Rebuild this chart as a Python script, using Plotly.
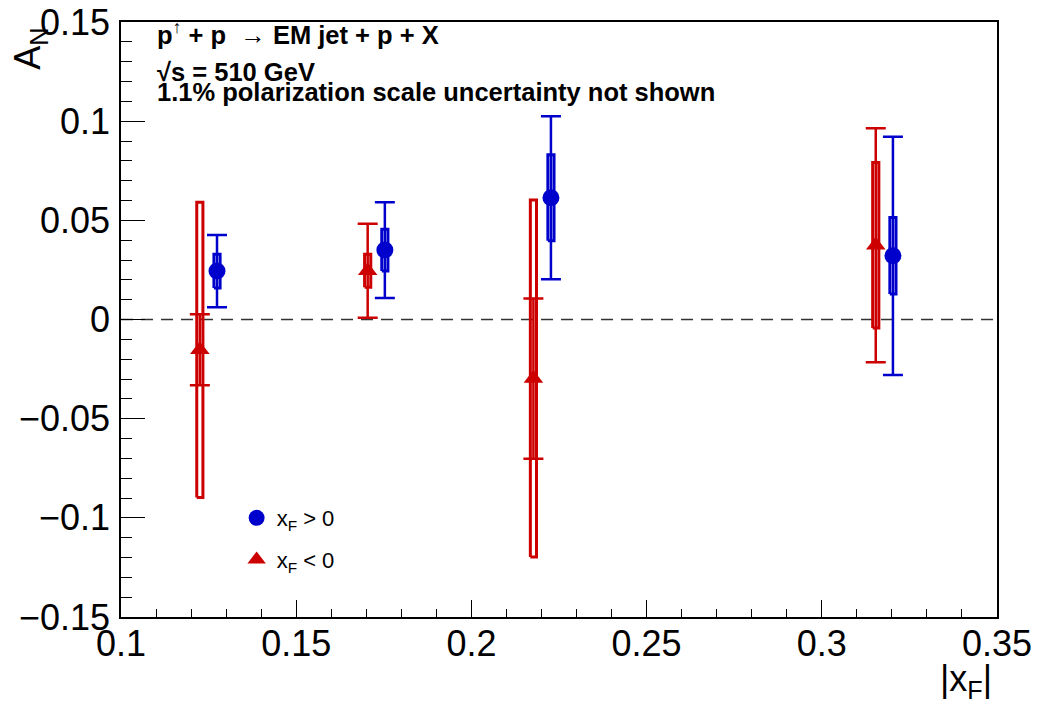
import plotly.graph_objects as go

# |x_F| bin centres, asymmetries, statistical and systematic uncertainties
xf_pos_x = [0.1274, 0.1753, 0.2227, 0.3203]
xf_pos_an = [0.0244, 0.0350, 0.0614, 0.0321]
xf_pos_stat = [0.0182, 0.0241, 0.0411, 0.0601]
xf_pos_sys = [0.0085, 0.0105, 0.0217, 0.0193]

xf_neg_x = [0.1225, 0.1704, 0.2177, 0.3154]
xf_neg_an = [-0.0153, 0.0246, -0.0298, 0.0374]
xf_neg_stat = [0.0179, 0.0237, 0.0404, 0.0590]
xf_neg_sys = [0.0744, 0.0083, 0.0900, 0.0417]

BLUE = "#0000CC"
RED = "#CC0000"
BOX_HALF_W = 0.00088  # half width of systematic boxes in |x_F| units
FONT = "Liberation Sans, Arial, sans-serif"


def box_outline(xs, ys, errs):
    px, py = [], []
    for x, y, e in zip(xs, ys, errs):
        px += [x - BOX_HALF_W, x + BOX_HALF_W, x + BOX_HALF_W, x - BOX_HALF_W, x - BOX_HALF_W, None]
        py += [y - e, y - e, y + e, y + e, y - e, None]
    return px, py


fig = go.Figure()

# zero line
fig.add_shape(type="line", xref="paper", yref="y", x0=0, x1=1, y0=0, y1=0,
              line=dict(color="#333333", width=1.5, dash="12px,8px"), layer="below")

# systematic uncertainty boxes
for xs, ys, es, col in [(xf_neg_x, xf_neg_an, xf_neg_sys, RED),
                        (xf_pos_x, xf_pos_an, xf_pos_sys, BLUE)]:
    bx, by = box_outline(xs, ys, es)
    fig.add_trace(go.Scatter(x=bx, y=by, mode="lines", line=dict(color=col, width=3),
                             showlegend=False, hoverinfo="skip"))

# points with statistical error bars
fig.add_trace(go.Scatter(
    x=xf_neg_x, y=xf_neg_an, mode="markers",
    marker=dict(symbol="triangle-up", size=17, color=RED),
    error_y=dict(type="data", array=xf_neg_stat, color=RED, thickness=2.5, width=10),
    showlegend=False))
fig.add_trace(go.Scatter(
    x=xf_pos_x, y=xf_pos_an, mode="markers",
    marker=dict(symbol="circle", size=17, color=BLUE),
    error_y=dict(type="data", array=xf_pos_stat, color=BLUE, thickness=2.5, width=10),
    showlegend=False))

# legend entries
fig.add_trace(go.Scatter(x=[None], y=[None], mode="markers", name="x<sub>F</sub> &gt; 0",
                         marker=dict(symbol="circle", size=17, color=BLUE), legendgroup="a"))
fig.add_trace(go.Scatter(x=[None], y=[None], mode="markers", name="x<sub>F</sub> &lt; 0",
                         marker=dict(symbol="triangle-up", size=17, color=RED), legendgroup="b"))

axis_common = dict(showgrid=False, zeroline=False, showline=True, mirror=True,
                   linecolor="black", linewidth=1.5, ticks="inside", tickcolor="black",
                   tickwidth=1.2, automargin=False,
                   tickfont=dict(family=FONT, size=36, color="black"))

fig.update_xaxes(range=[0.1, 0.35], dtick=0.05, tick0=0.1, ticklen=17,
                 minor=dict(dtick=0.01, ticks="inside", ticklen=8, tickcolor="black", tickwidth=1.2),
                 ticklabelstandoff=-6, **axis_common)
fig.update_yaxes(range=[-0.15, 0.15], dtick=0.05, tick0=0, ticklen=24,
                 minor=dict(dtick=0.01, ticks="inside", ticklen=11, tickcolor="black", tickwidth=1.2),
                 ticklabelstandoff=2, **axis_common)

annots = [
    dict(text="<b>p<sup>↑</sup> + p  → EM jet + p + X</b>", x=0.0388, y=0.9815),
    dict(text="<b>√s = 510 GeV</b>", x=0.0388, y=0.916),
    dict(text="<b>1.1% polarization scale uncertainty not shown</b>", x=0.0388, y=0.883),
]
for a in annots:
    fig.add_annotation(xref="paper", yref="paper", xanchor="left", yanchor="middle",
                       showarrow=False, font=dict(family=FONT, size=25.5, color="black"), **a)

# axis titles
fig.add_annotation(text="|x<sub>F</sub>|", xref="paper", yref="paper", x=0.9966, y=-0.108,
                   xanchor="right", yanchor="middle", showarrow=False,
                   font=dict(family=FONT, size=36, color="black"))
fig.add_annotation(text="A<sub>N</sub>", xref="paper", yref="paper", x=-0.104, y=0.955,
                   xanchor="center", yanchor="middle", textangle=-90, showarrow=False,
                   font=dict(family=FONT, size=36, color="black"))

fig.update_layout(
    width=1038, height=718,
    margin=dict(l=121, r=41, t=22, b=101, autoexpand=False),
    paper_bgcolor="white", plot_bgcolor="white",
    legend=dict(x=0.132, y=0.2016, xanchor="left", yanchor="top", bgcolor="rgba(0,0,0,0)",
                font=dict(family=FONT, size=22, color="black"), tracegroupgap=10,
                traceorder="grouped"),
)

fig.write_html("out.html")
